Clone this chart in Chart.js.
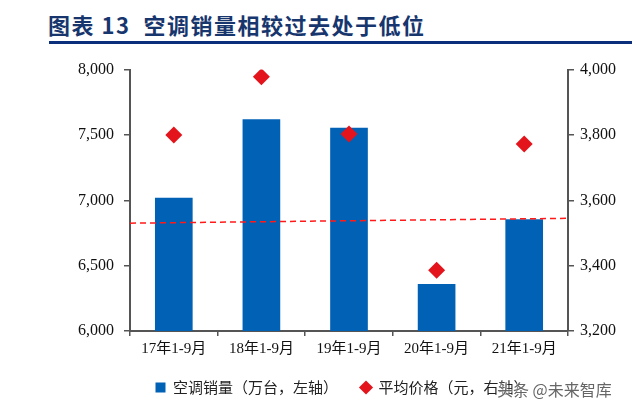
<!DOCTYPE html>
<html>
<head>
<meta charset="utf-8">
<script src="https://cdn.jsdelivr.net/npm/chart.js@4/dist/chart.umd.min.js"></script>
<style>
    body { margin: 0; width: 640px; height: 416px; background: #fff; position: relative; overflow: hidden; }
    #title { position: absolute; left: 48px; top: 8px; font: bold 22px "Noto Sans CJK SC", sans-serif; letter-spacing: 1.5px; color: #17366e; white-space: pre; }
    #titleLine { position: absolute; left: 49px; top: 41px; width: 583px; height: 3px; background: #0b2f7a; }
    #chartBox { position: absolute; left: 0; top: 50px; width: 640px; height: 366px; }
    #mark { position: absolute; left: 497px; top: 377px; font: 16px "Noto Sans CJK SC", sans-serif; color: #666; text-shadow: 0 0 2px #fff, 0 0 2px #fff; }
</style>
</head>
<body>
<div id="title">图表 13  空调销量相较过去处于低位</div>
<div id="titleLine"></div>
<div id="chartBox"><canvas id="airChart"></canvas></div>
<div id="mark">头条 @未来智库</div>
<script>
window.onload = function () {
    var periods = ['17年1-9月', '18年1-9月', '19年1-9月', '20年1-9月', '21年1-9月'];
    var sales = [7020, 7620, 7555, 6360, 6855];      // 万台, left axis
    var prices = [3800, 3978, 3803, 3386, 3772];     // 元, right axis
    var trendX = [0, 1];
    var trendY = [6825, 6862];
    var serif = '"Liberation Serif", "Times New Roman", "Noto Sans CJK SC", serif';
    var axisColor = '#555555';

    var trend = trendX.map(function (x, i) {
        return { x: x, y: trendY[i] };
    });

    function thousands(v) {
        return v.toLocaleString('en-US');
    }

    var ctx = document.getElementById('airChart').getContext('2d');
    var chart = new Chart(ctx, {
        data: {
            labels: periods,
            datasets: [{
                type: 'bar',
                label: '空调销量（万台，左轴）',
                data: sales,
                backgroundColor: '#0061b5',
                borderWidth: 0,
                pointStyle: 'rect',
                grouped: false,
                barPercentage: 0.43,
                categoryPercentage: 1,
                yAxisID: 'y',
                order: 3
            }, {
                type: 'line',
                label: '平均价格（元，右轴）',
                data: prices,
                showLine: false,
                pointStyle: 'rectRot',
                pointRadius: 8.5,
                pointBackgroundColor: '#e3141c',
                pointBorderWidth: 0,
                backgroundColor: '#e3141c',
                borderColor: '#e3141c',
                yAxisID: 'y2',
                order: 1
            }, {
                type: 'line',
                label: 'trend',
                data: trend,
                xAxisID: 'xt',
                yAxisID: 'y',
                borderColor: '#ff1a1a',
                borderWidth: 1.5,
                borderDash: [6, 4],
                pointRadius: 0,
                order: 2
            }]
        },
        options: {
            responsive: true,
            maintainAspectRatio: false,
            animation: false,
            layout: { padding: { top: 18, bottom: 11, left: 44 } },
            plugins: {
                tooltip: { enabled: false },
                legend: {
                    position: 'bottom',
                    labels: {
                        usePointStyle: true,
                        boxWidth: 10,
                        boxHeight: 10,
                        padding: 23,
                        color: '#222',
                        font: { family: '"Noto Sans CJK SC", sans-serif', size: 15 },
                        filter: function (item) { return item.text != 'trend'; },
                        sort: function (a, b) { return a.datasetIndex - b.datasetIndex; }
                    }
                }
            },
            scales: {
                x: {
                    offset: true,
                    grid: { offset: true, drawOnChartArea: false, drawTicks: true, tickLength: 5, color: axisColor, lineWidth: 1.5 },
                    border: { color: axisColor, width: 2 },
                    ticks: { color: '#111', padding: 4, font: { family: serif, size: 15 }, maxRotation: 0 },
                    afterFit: function (s) { s.height = 26; }
                },
                xt: {
                    type: 'linear',
                    display: false,
                    min: 0,
                    max: 1
                },
                y: {
                    position: 'left',
                    min: 6000,
                    max: 8000,
                    grid: { drawOnChartArea: false, tickLength: 6, color: axisColor, lineWidth: 1.5 },
                    border: { color: axisColor, width: 2 },
                    ticks: {
                        stepSize: 500,
                        color: '#111',
                        padding: 10,
                        font: { family: serif, size: 16 },
                        callback: thousands
                    },
                    afterFit: function (s) { s.width = 86; }
                },
                y2: {
                    position: 'right',
                    min: 3200,
                    max: 4000,
                    grid: { drawOnChartArea: false, tickLength: 6, color: axisColor, lineWidth: 1.5 },
                    border: { color: axisColor, width: 2 },
                    ticks: {
                        stepSize: 200,
                        color: '#111',
                        padding: 6,
                        font: { family: serif, size: 16 },
                        callback: thousands
                    },
                    afterFit: function (s) { s.width = 72; }
                }
            }
        }
    });
}
</script>
</body>
</html>
